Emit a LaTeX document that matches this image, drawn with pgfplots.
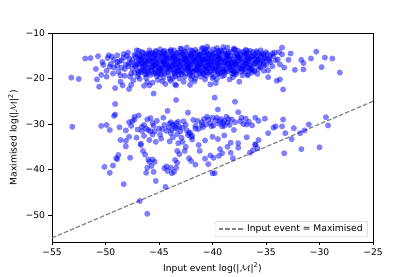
\documentclass[border=0pt]{standalone}
\usepackage{pgfplots}
\pgfplotsset{compat=1.18}
\usepackage{fontspec}
\setmainfont{DejaVu Sans}
\begin{document}
\begin{tikzpicture}
\begin{axis}[
 scale only axis, width=321bp, height=209bp,
 xmin=-55, xmax=-25, ymin=-55.9, ymax=-10,
 xtick={-55,-50,-45,-40,-35,-30,-25},
 xticklabels={−55,−50,−45,−40,−35,−30,−25},
 ytick={-50,-40,-30,-20,-10},
 yticklabels={−50,−40,−30,−20,−10},
 tick align=outside, major tick length=3.5bp,
 xtick pos=bottom, ytick pos=left,
 tick style={black, line width=0.8bp},
 axis line style={line width=0.8bp},
 ticklabel style={font=\fontsize{9.2}{11}\selectfont},
 label style={font=\fontsize{9.2}{11}\selectfont},
 xlabel={Input event log(|$\mathcal{M}$|\textsuperscript{2})},
 ylabel={Maximised log(|$\mathcal{M}$|\textsuperscript{2})},
 legend style={at={(0.984,0.024)}, anchor=south east, draw=black!20, rounded corners=2pt,
   font=\fontsize{9.2}{11}\selectfont, inner xsep=3pt, inner ysep=1.5pt},
 legend cell align=left,
 legend image code/.code={\path (0,0) -- (26bp,0); \draw[#1] (0,0) -- (20bp,0);},
]
\addplot[only marks, mark=*, mark size=3bp, mark options={draw opacity=0, fill=blue, fill opacity=0.5}, forget plot] coordinates {
(-50.7,-15.1) (-50.9,-17.9) (-50.4,-19.2) (-50.3,-16.4) (-50.6,-21.8) (-50.8,-20.2)
(-49.8,-15.5) (-49.6,-17.4) (-49.3,-18.9) (-49.9,-19.6) (-49.2,-15.9) (-49.5,-16.8) (-49.1,-22.1) (-49.7,-14.9)
(-48.9,-14.9) (-48.7,-16.2) (-48.5,-17.6) (-48.8,-18.5) (-48.3,-15.4) (-48.2,-19.4) (-48.6,-20.7) (-48.1,-16.9) (-48.4,-21.5) (-48.9,-17.2) (-48.3,-14.6)
(-47.9,-14.3) (-47.8,-15.6) (-47.6,-16.5) (-47.5,-17.8) (-47.3,-18.7) (-47.7,-19.6) (-47.2,-15.1) (-47.1,-16.9) (-47.4,-20.4) (-47.9,-17.3) (-47.0,-18.2) (-47.6,-21.4) (-47.3,-14.8) (-47.8,-22.3) (-47.1,-13.8)
(-46.9,-13.9) (-46.8,-15.0) (-46.7,-15.9) (-46.6,-16.7) (-46.5,-17.5) (-46.4,-18.3) (-46.3,-19.1) (-46.2,-19.9) (-46.1,-20.8) (-46.0,-14.6) (-46.9,-17.0) (-46.7,-18.6) (-46.5,-14.3) (-46.3,-16.2) (-46.1,-17.9) (-46.8,-20.1) (-46.4,-21.6) (-46.6,-15.4) (-46.2,-16.6) (-46.0,-18.8)
(-45.9,-13.8) (-45.8,-14.7) (-45.7,-15.5) (-45.6,-16.3) (-45.5,-17.1) (-45.4,-17.9) (-45.3,-18.7) (-45.2,-19.5) (-45.1,-20.3) (-45.0,-15.0) (-45.9,-16.0) (-45.7,-17.5) (-45.5,-18.9) (-45.3,-14.2) (-45.1,-16.6) (-45.8,-19.2) (-45.6,-20.9) (-45.4,-15.8) (-45.2,-17.3) (-45.0,-18.2) (-45.9,-21.5) (-45.6,-14.4) (-45.3,-16.9) (-45.1,-19.0)
(-44.9,-13.6) (-44.8,-14.5) (-44.7,-15.2) (-44.6,-15.9) (-44.5,-16.5) (-44.4,-17.2) (-44.3,-17.9) (-44.2,-18.6) (-44.1,-19.3) (-44.0,-20.1) (-44.9,-16.2) (-44.7,-17.6) (-44.5,-18.9) (-44.3,-14.8) (-44.1,-15.6) (-44.8,-18.1) (-44.6,-19.8) (-44.4,-21.2) (-44.2,-16.9) (-44.0,-15.3) (-44.9,-19.0) (-44.6,-14.1) (-44.3,-16.3) (-44.1,-17.5) (-44.7,-20.6) (-44.5,-13.9)
(-43.9,-14.0) (-43.8,-14.9) (-43.7,-15.7) (-43.6,-16.4) (-43.5,-17.0) (-43.4,-17.7) (-43.3,-18.4) (-43.2,-19.2) (-43.1,-20.0) (-43.0,-13.4) (-43.9,-16.6) (-43.7,-18.0) (-43.5,-19.5) (-43.3,-15.2) (-43.1,-16.1) (-43.8,-17.4) (-43.6,-18.8) (-43.4,-21.5) (-43.2,-15.6) (-43.0,-17.3) (-43.9,-20.5) (-43.6,-13.8) (-43.4,-14.6) (-43.2,-16.8) (-43.0,-18.6) (-43.7,-19.9) (-43.5,-21.3) (-43.1,-14.3)
(-42.9,-13.5) (-42.8,-14.4) (-42.7,-15.1) (-42.6,-15.8) (-42.5,-16.4) (-42.4,-17.1) (-42.3,-17.8) (-42.2,-18.5) (-42.1,-19.3) (-42.0,-20.2) (-42.9,-16.0) (-42.7,-17.5) (-42.5,-18.9) (-42.3,-14.7) (-42.1,-15.5) (-42.8,-18.2) (-42.6,-19.6) (-42.4,-13.2) (-42.2,-16.7) (-42.0,-14.9) (-42.9,-19.1) (-42.6,-14.0) (-42.4,-16.0) (-42.2,-17.4) (-42.0,-18.0) (-42.7,-20.7) (-42.5,-15.6) (-42.1,-21.4)
(-41.9,-13.9) (-41.8,-14.6) (-41.7,-15.4) (-41.6,-16.1) (-41.5,-16.7) (-41.4,-17.4) (-41.3,-18.1) (-41.2,-18.8) (-41.1,-19.6) (-41.0,-13.4) (-41.9,-16.4) (-41.7,-17.8) (-41.5,-19.2) (-41.3,-15.0) (-41.1,-15.8) (-41.8,-18.4) (-41.6,-20.0) (-41.4,-14.2) (-41.2,-16.9) (-41.0,-17.2) (-41.9,-19.4) (-41.6,-13.7) (-41.4,-15.7) (-41.2,-14.8) (-41.0,-18.5) (-41.7,-20.6) (-41.5,-18.0) (-41.1,-16.3)
(-40.9,-13.3) (-40.8,-14.3) (-40.7,-15.0) (-40.6,-15.7) (-40.5,-16.4) (-40.4,-17.0) (-40.3,-17.7) (-40.2,-18.4) (-40.1,-19.1) (-40.0,-19.9) (-40.9,-15.9) (-40.7,-17.3) (-40.5,-18.7) (-40.3,-14.6) (-40.1,-15.4) (-40.8,-17.9) (-40.6,-19.4) (-40.4,-13.6) (-40.2,-16.2) (-40.0,-14.8) (-40.9,-18.9) (-40.6,-14.1) (-40.4,-15.9) (-40.2,-21.3) (-40.0,-17.6) (-40.7,-20.2) (-40.5,-13.0) (-40.1,-16.8)
(-39.9,-13.6) (-39.8,-14.5) (-39.7,-15.2) (-39.6,-15.9) (-39.5,-16.6) (-39.4,-17.3) (-39.3,-18.0) (-39.2,-18.7) (-39.1,-19.5) (-39.0,-13.1) (-39.9,-16.3) (-39.7,-17.7) (-39.5,-19.0) (-39.3,-14.8) (-39.1,-15.6) (-39.8,-18.3) (-39.6,-20.1) (-39.4,-14.0) (-39.2,-16.4) (-39.0,-17.0) (-39.9,-19.6) (-39.6,-13.3) (-39.4,-15.5) (-39.2,-13.9) (-39.0,-18.4) (-39.7,-21.0)
(-38.9,-13.8) (-38.8,-14.6) (-38.7,-15.3) (-38.6,-16.0) (-38.5,-16.7) (-38.4,-17.4) (-38.3,-18.1) (-38.2,-18.9) (-38.1,-19.7) (-38.0,-13.4) (-38.9,-16.5) (-38.7,-17.9) (-38.5,-14.2) (-38.3,-15.0) (-38.1,-15.8) (-38.8,-18.6) (-38.6,-13.2) (-38.4,-20.2) (-38.2,-16.4) (-38.0,-17.1) (-38.9,-19.3) (-38.6,-14.9) (-38.3,-16.9) (-38.0,-18.5)
(-37.9,-13.6) (-37.8,-14.5) (-37.7,-15.3) (-37.6,-16.1) (-37.5,-16.9) (-37.4,-17.7) (-37.3,-18.5) (-37.2,-19.3) (-37.1,-14.1) (-37.0,-15.0) (-37.9,-16.7) (-37.7,-18.2) (-37.5,-20.7) (-37.3,-15.7) (-37.1,-17.2) (-37.8,-19.1) (-37.6,-13.9) (-37.4,-14.8) (-37.2,-16.4) (-37.0,-18.0)
(-36.9,-13.7) (-36.8,-14.6) (-36.7,-15.4) (-36.6,-16.2) (-36.5,-17.0) (-36.4,-17.8) (-36.3,-18.7) (-36.2,-14.2) (-36.1,-15.8) (-36.0,-16.6) (-36.9,-17.4) (-36.7,-19.3) (-36.5,-13.9) (-36.3,-15.1) (-36.1,-18.2) (-36.8,-16.0)
(-35.9,-14.0) (-35.8,-15.0) (-35.7,-15.8) (-35.6,-16.6) (-35.5,-17.5) (-35.4,-14.5) (-35.3,-16.1) (-35.2,-18.3) (-35.1,-15.4) (-35.0,-17.0) (-35.8,-19.0) (-35.5,-13.8)
(-34.9,-14.6) (-34.7,-15.6) (-34.6,-16.4) (-34.4,-17.3) (-34.3,-15.1) (-34.1,-16.0) (-34.8,-18.2) (-34.2,-14.3)
(-33.9,-15.8) (-33.7,-16.9) (-33.5,-14.7) (-33.3,-17.6) (-33.8,-14.2)
(-46.6,-14.2) (-45.8,-14.4) (-45.0,-14.3) (-44.1,-14.1) (-43.3,-14.4) (-42.5,-14.2) (-41.6,-14.4) (-40.8,-14.2) (-40.0,-14.3) (-39.1,-14.4) (-38.3,-14.2) (-37.4,-14.3) (-36.6,-14.4) (-35.8,-14.3) (-35.0,-14.2)
(-47.0,-14.9) (-46.2,-15.0) (-45.4,-14.8) (-44.6,-14.9) (-43.7,-15.1) (-42.9,-14.8) (-42.0,-15.0) (-41.2,-14.9) (-40.4,-14.8) (-39.6,-15.1) (-38.7,-14.9) (-37.9,-15.0) (-37.0,-14.8) (-36.2,-15.0) (-35.4,-14.9) (-34.6,-15.0)
(-46.7,-15.5) (-45.9,-15.6) (-45.1,-15.4) (-44.3,-15.5) (-43.4,-15.7) (-42.6,-15.4) (-41.7,-15.6) (-40.9,-15.5) (-40.1,-15.4) (-39.3,-15.6) (-38.4,-15.5) (-37.6,-15.4) (-36.7,-15.6) (-35.9,-15.5) (-35.1,-15.6)
(-47.1,-16.1) (-46.3,-16.0) (-45.5,-16.2) (-44.7,-16.1) (-43.8,-16.0) (-43.0,-16.2) (-42.1,-16.1) (-41.3,-16.0) (-40.5,-16.2) (-39.7,-16.1) (-38.8,-16.0) (-38.0,-16.2) (-37.1,-16.1) (-36.3,-16.0) (-35.5,-16.2) (-34.7,-16.1)
(-46.8,-16.7) (-46.0,-16.8) (-45.2,-16.6) (-44.4,-16.7) (-43.5,-16.9) (-42.7,-16.6) (-41.8,-16.8) (-41.0,-16.7) (-40.2,-16.6) (-39.4,-16.8) (-38.5,-16.7) (-37.7,-16.6) (-36.8,-16.8) (-36.0,-16.7) (-35.2,-16.6)
(-47.2,-17.3) (-46.4,-17.2) (-45.6,-17.4) (-44.8,-17.3) (-43.9,-17.2) (-43.1,-17.4) (-42.2,-17.3) (-41.4,-17.2) (-40.6,-17.4) (-39.8,-17.3) (-38.9,-17.2) (-38.1,-17.4) (-37.2,-17.3) (-36.4,-17.2) (-35.6,-17.4)
(-46.5,-17.9) (-45.7,-18.0) (-44.9,-17.8) (-44.0,-17.9) (-43.2,-18.1) (-42.3,-17.8) (-41.5,-18.0) (-40.7,-17.9) (-39.9,-17.8) (-39.0,-18.0) (-38.2,-17.9) (-37.3,-17.8) (-36.5,-18.0) (-35.7,-17.9)
(-46.9,-18.5) (-46.1,-18.4) (-45.3,-18.6) (-44.5,-18.5) (-43.6,-18.4) (-42.8,-18.6) (-41.9,-18.5) (-41.1,-18.4) (-40.3,-18.6) (-39.5,-18.5) (-38.6,-18.4) (-37.8,-18.6) (-36.9,-18.5) (-36.1,-18.4)
(-45.3,-13.9) (-43.9,-13.7) (-42.0,-13.8) (-40.7,-13.6) (-39.5,-13.9) (-38.0,-13.7) (-36.8,-13.9)
(-46.4,-15.2) (-45.5,-15.3) (-44.4,-15.1) (-43.6,-15.3) (-42.3,-15.2) (-41.4,-15.1) (-40.6,-15.3) (-39.5,-15.2) (-38.6,-15.1) (-37.5,-15.3) (-36.4,-15.2) (-35.5,-15.1)
(-46.6,-16.4) (-45.7,-16.5) (-44.6,-16.3) (-43.3,-16.4) (-42.4,-16.5) (-41.6,-16.3) (-40.7,-16.4) (-39.8,-16.5) (-38.8,-16.3) (-37.9,-16.4) (-36.9,-16.5) (-35.8,-16.3)
(-46.0,-17.6) (-45.0,-17.7) (-44.2,-17.5) (-43.3,-17.6) (-42.5,-17.7) (-41.3,-17.5) (-40.4,-17.6) (-39.4,-17.7) (-38.4,-17.5) (-37.6,-17.6) (-36.6,-17.7)
(-46.2,-14.6) (-45.4,-14.7) (-44.5,-14.5) (-43.7,-14.6) (-42.8,-14.7) (-42.0,-14.5) (-41.1,-14.6) (-40.3,-14.7) (-39.4,-14.5) (-38.6,-14.6) (-37.7,-14.7) (-36.9,-14.5) (-36.0,-14.6) (-35.2,-14.7) (-34.4,-14.5)
(-46.9,-15.8) (-46.0,-15.9) (-45.2,-15.7) (-44.3,-15.8) (-43.5,-15.9) (-42.6,-15.7) (-41.8,-15.8) (-40.9,-15.9) (-40.1,-15.7) (-39.2,-15.8) (-38.4,-15.9) (-37.5,-15.7) (-36.6,-15.8) (-35.8,-15.9) (-34.9,-15.7)
(-46.3,-17.0) (-45.4,-17.1) (-44.6,-16.9) (-43.7,-17.0) (-42.9,-17.1) (-42.0,-16.9) (-41.2,-17.0) (-40.3,-17.1) (-39.5,-16.9) (-38.6,-17.0) (-37.8,-17.1) (-36.9,-16.9) (-36.1,-17.0) (-35.2,-17.1)
(-46.6,-18.2) (-45.7,-18.3) (-44.9,-18.1) (-44.0,-18.2) (-43.2,-18.3) (-42.3,-18.1) (-41.5,-18.2) (-40.6,-18.3) (-39.8,-18.1) (-38.9,-18.2) (-38.1,-18.3) (-37.2,-18.1) (-36.4,-18.2)
(-46.2,-19.0) (-44.8,-19.1) (-43.5,-18.9) (-42.1,-19.0) (-40.8,-19.1) (-39.4,-18.9) (-38.0,-19.0) (-36.7,-19.1)
(-50.2,-17.0) (-49.9,-18.3) (-49.4,-15.2) (-48.9,-16.4) (-48.6,-19.3) (-48.2,-17.9) (-48.0,-15.0) (-47.6,-18.9) (-47.5,-15.9) (-47.3,-17.1) (-47.0,-19.6) (-48.5,-16.0) (-49.2,-17.6) (-47.8,-16.7) (-46.9,-19.0)
(-53.2,-19.8) (-52.5,-20.1) (-51.9,-15.6) (-51.4,-15.5) (-49.1,-25.6) (-49.1,-27.9) (-45.5,-23.3) (-43.4,-24.7) (-39.8,-24.2) (-37.9,-25.1) (-33.4,-22.4) (-33.7,-20.2) (-34.0,-20.5) (-34.8,-19.7) (-32.3,-18.1) (-31.5,-18.0) (-31.5,-16.6) (-31.7,-15.9) (-30.8,-15.6) (-30.3,-14.1) (-29.8,-17.5) (-29.5,-15.4) (-28.8,-15.6) (-28.1,-18.7) (-33.5,-13.2) (-32.7,-14.5) (-32.9,-15.9)
(-53.1,-30.6) (-50.4,-30.4) (-49.9,-30.2) (-49.6,-31.3) (-49.2,-28.2) (-48.7,-30.7) (-48.1,-31.4) (-47.8,-29.6) (-47.5,-29.4) (-47.3,-29.0) (-47.3,-28.4) (-46.9,-28.1) (-47.0,-31.2) (-46.6,-31.5) (-46.4,-30.2) (-46.1,-29.0) (-45.8,-28.7) (-45.8,-31.6) (-45.5,-30.4) (-45.2,-29.3) (-45.0,-31.0) (-44.9,-32.3) (-44.6,-28.6) (-44.5,-30.2) (-44.2,-27.1) (-44.1,-30.8) (-43.9,-29.6) (-43.8,-31.3) (-43.6,-30.4) (-43.5,-30.9) (-43.4,-29.8) (-43.3,-32.2) (-43.1,-30.6) (-43.0,-31.6) (-42.9,-33.0) (-42.7,-29.4) (-42.5,-30.2) (-42.3,-27.5) (-42.3,-32.4) (-42.1,-31.9) (-42.0,-32.8) (-41.8,-29.1) (-41.6,-30.4) (-41.4,-29.3) (-41.3,-31.1) (-41.0,-29.6) (-40.8,-28.9) (-40.6,-30.1) (-40.4,-29.0) (-40.2,-29.8) (-40.0,-28.6) (-39.9,-30.3) (-39.7,-29.2) (-39.5,-26.8) (-39.4,-29.9) (-39.2,-28.9) (-39.1,-30.5) (-38.9,-29.3) (-38.7,-28.4) (-38.6,-29.7) (-38.4,-30.2) (-38.2,-29.0) (-38.0,-31.3) (-37.6,-27.4) (-37.4,-29.4) (-37.1,-30.0) (-36.9,-28.8) (-36.6,-29.5) (-36.3,-30.3) (-36.0,-28.6) (-35.7,-29.3) (-35.1,-28.8) (-34.8,-32.0) (-34.3,-30.8) (-34.1,-30.5) (-33.5,-30.5) (-33.4,-29.0) (-33.2,-32.0) (-32.4,-30.9) (-32.6,-33.3) (-31.8,-32.0) (-31.4,-31.4) (-31.0,-30.1) (-29.4,-28.5) (-29.2,-30.3)
(-48.6,-33.5) (-48.1,-33.7) (-48.1,-34.9) (-47.8,-32.8) (-47.1,-33.0) (-46.7,-34.6) (-46.4,-32.6) (-45.9,-33.5) (-45.6,-32.3) (-45.3,-33.9) (-44.8,-33.2) (-44.0,-33.8) (-43.7,-32.9) (-43.2,-34.2) (-42.8,-33.9) (-42.5,-35.0) (-41.9,-33.4) (-41.3,-34.6) (-40.7,-33.6) (-40.0,-32.8) (-39.5,-33.3) (-38.9,-32.5) (-38.3,-34.1) (-37.6,-34.2) (-36.8,-32.9) (-36.0,-34.5) (-35.7,-33.5) (-35.8,-35.3)
(-43.7,-30.1) (-43.3,-30.9) (-42.2,-32.0) (-41.9,-32.6) (-44.3,-31.5) (-39.3,-29.4) (-39.0,-29.8) (-40.9,-30.7) (-46.2,-31.0) (-45.6,-29.8)
(-46.6,-30.6) (-46.0,-31.3) (-45.4,-31.6) (-44.0,-29.9) (-43.2,-29.5) (-42.8,-30.8) (-42.4,-31.4) (-41.6,-31.0) (-41.0,-30.2) (-40.5,-28.4) (-40.1,-30.5) (-39.6,-28.6) (-38.9,-30.4) (-38.5,-28.9) (-37.9,-29.6) (-37.3,-28.6) (-36.8,-30.1) (-47.6,-30.4) (-44.7,-31.1) (-43.9,-32.0)
(-50.1,-39.4) (-49.6,-40.7) (-49.3,-39.1) (-49.0,-37.5) (-48.8,-36.8) (-48.3,-43.2) (-47.7,-37.4) (-46.3,-36.7) (-46.0,-37.8) (-45.6,-37.8) (-45.9,-38.3) (-45.4,-38.3) (-46.1,-39.6) (-46.2,-40.7) (-45.3,-42.5) (-44.4,-43.8) (-46.8,-46.9) (-46.1,-49.7) (-44.3,-39.3) (-43.9,-39.6) (-43.6,-40.5) (-43.4,-39.6) (-43.5,-37.9) (-43.3,-38.5) (-43.3,-35.9) (-43.1,-36.6) (-42.6,-35.9) (-42.2,-37.5) (-42.0,-38.1) (-41.6,-38.9) (-41.2,-35.9) (-40.7,-37.6) (-40.2,-36.9) (-40.4,-38.8) (-39.9,-37.4) (-39.8,-40.8) (-39.4,-37.0) (-39.3,-35.5) (-39.1,-36.4) (-38.6,-35.0) (-38.3,-36.3) (-38.1,-37.5) (-37.6,-35.2) (-36.5,-36.3) (-36.2,-35.7) (-36.0,-34.5) (-33.3,-36.4) (-31.7,-35.5) (-30.0,-35.1) (-48.9,-37.7) (-46.7,-34.3) (-46.5,-35.9) (-45.7,-39.2) (-45.5,-40.5) (-44.5,-39.7) (-44.2,-40.3) (-43.8,-40.8) (-40.0,-40.8)
};
\addplot[gray, line width=1.2bp, dash pattern=on 4.5bp off 2bp] coordinates {(-55,-55) (-25,-25)};
\addlegendentry{Input event = Maximised}
\coordinate (bl) at (rel axis cs:0,0);
\coordinate (tr) at (rel axis cs:1,1);
\end{axis}
\path ([shift={(-52bp,-35bp)}]bl) rectangle ([shift={(42bp,33bp)}]tr);
\end{tikzpicture}
\end{document}
